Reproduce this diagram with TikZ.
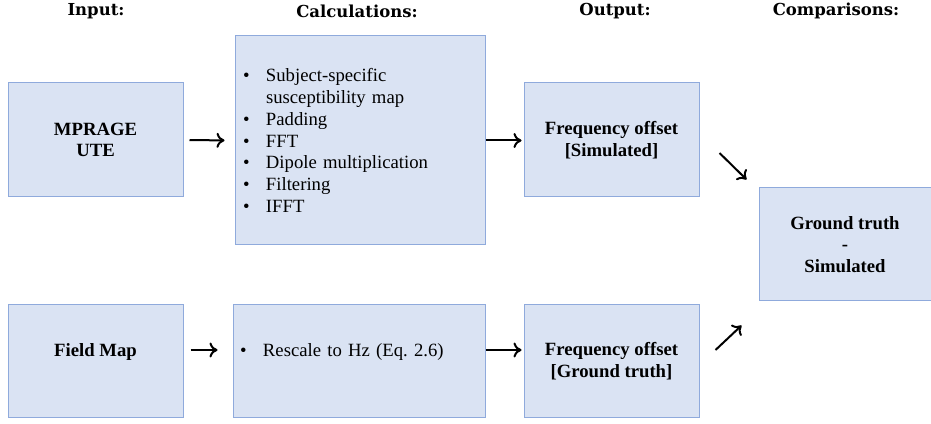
\documentclass[tikz,border=0pt]{standalone}
\usepackage{fontspec}
\setmainfont{Liberation Serif}
\newfontfamily\headfont{DejaVu Serif}
\usetikzlibrary{arrows.meta}
\frenchspacing

\definecolor{boxfill}{HTML}{DAE3F3}
\definecolor{boxline}{HTML}{8FAADC}

\newcommand{\bul}{\makebox[23pt][l]{\textbullet}}
\newcommand{\hang}{\hspace*{23pt}}

\tikzset{
  box/.style={draw=boxline, fill=boxfill, line width=1pt, inner sep=0pt,
    font=\fontsize{18.7}{21.7}\selectfont},
  titlebox/.style={box, align=center, font=\fontsize{18.7}{21.7}\selectfont\bfseries},
  listbox/.style={box, align=left},
  raised/.style={text height=13pt, text depth=22.5pt},
  head/.style={font=\fontsize{16.5}{19}\selectfont\headfont\bfseries},
  flow/.style={-{To[length=8pt,width=15pt]}, line width=2pt}
}

\begin{document}
\begin{tikzpicture}[x=1pt,y=1pt]
\useasboundingbox (0,0) rectangle (931,423);

% Headers
\foreach \x/\txt/\nm in {96/Input:/hin, 357/Calculations:/hcalc, 615/Output:/hout, 836/Comparisons:/hcomp} {
  \node[head] (\nm) at (\x,412) {\txt};
}

% Top row
\node[titlebox, minimum width=175pt, minimum height=114pt] (mprage) at (95.5,283) {MPRAGE\\UTE};
\node[listbox, minimum width=250pt, minimum height=209pt, text width=234pt] (calc) at (360,282.5) {%
  \bul Subject-specific\\
  \hang susceptibility map\\
  \bul Padding\\
  \bul FFT\\
  \bul Dipole multiplication\\
  \bul Filtering\\
  \bul IFFT};
\node[titlebox, minimum width=175pt, minimum height=114pt] (freqsim) at (611.5,283) {Frequency offset\\{[}Simulated{]}};

% Bottom row
\node[titlebox, raised, minimum width=175pt, minimum height=112pt] (field) at (95.5,62) {Field Map};
\node[listbox, raised, minimum width=252pt, minimum height=112pt, text width=238pt] (rescale) at (359,62) {\bul Rescale to Hz (Eq. 2.6)};
\node[titlebox, minimum width=175pt, minimum height=112pt] (freqgt) at (611.5,62) {Frequency offset\\{[}Ground truth{]}};

% Comparison
\node[titlebox, minimum width=172pt, minimum height=113pt] (comp) at (845,178.5) {Ground truth\\-\\Simulated};

% Arrows
\draw[flow, shorten <=6pt, shorten >=10pt] (mprage.east) -- (calc.west);
\draw[flow, shorten >=2pt] (calc.east) -- (calc.east -| freqsim.west);
\draw[flow, shorten <=7pt, shorten >=15pt] ([yshift=11pt]field.east) -- ([yshift=11pt]rescale.west);
\draw[flow, shorten >=2pt] ([yshift=11pt]rescale.east) -- ([yshift=11pt]freqgt.west);
\draw[flow] ([shift={(20,-13)}]freqsim.east) -- ([shift={(-12,8)}]comp.north west);
\draw[flow] ([shift={(16,11)}]freqgt.east) -- ([shift={(-17,-24)}]comp.south west);
\end{tikzpicture}
\end{document}
